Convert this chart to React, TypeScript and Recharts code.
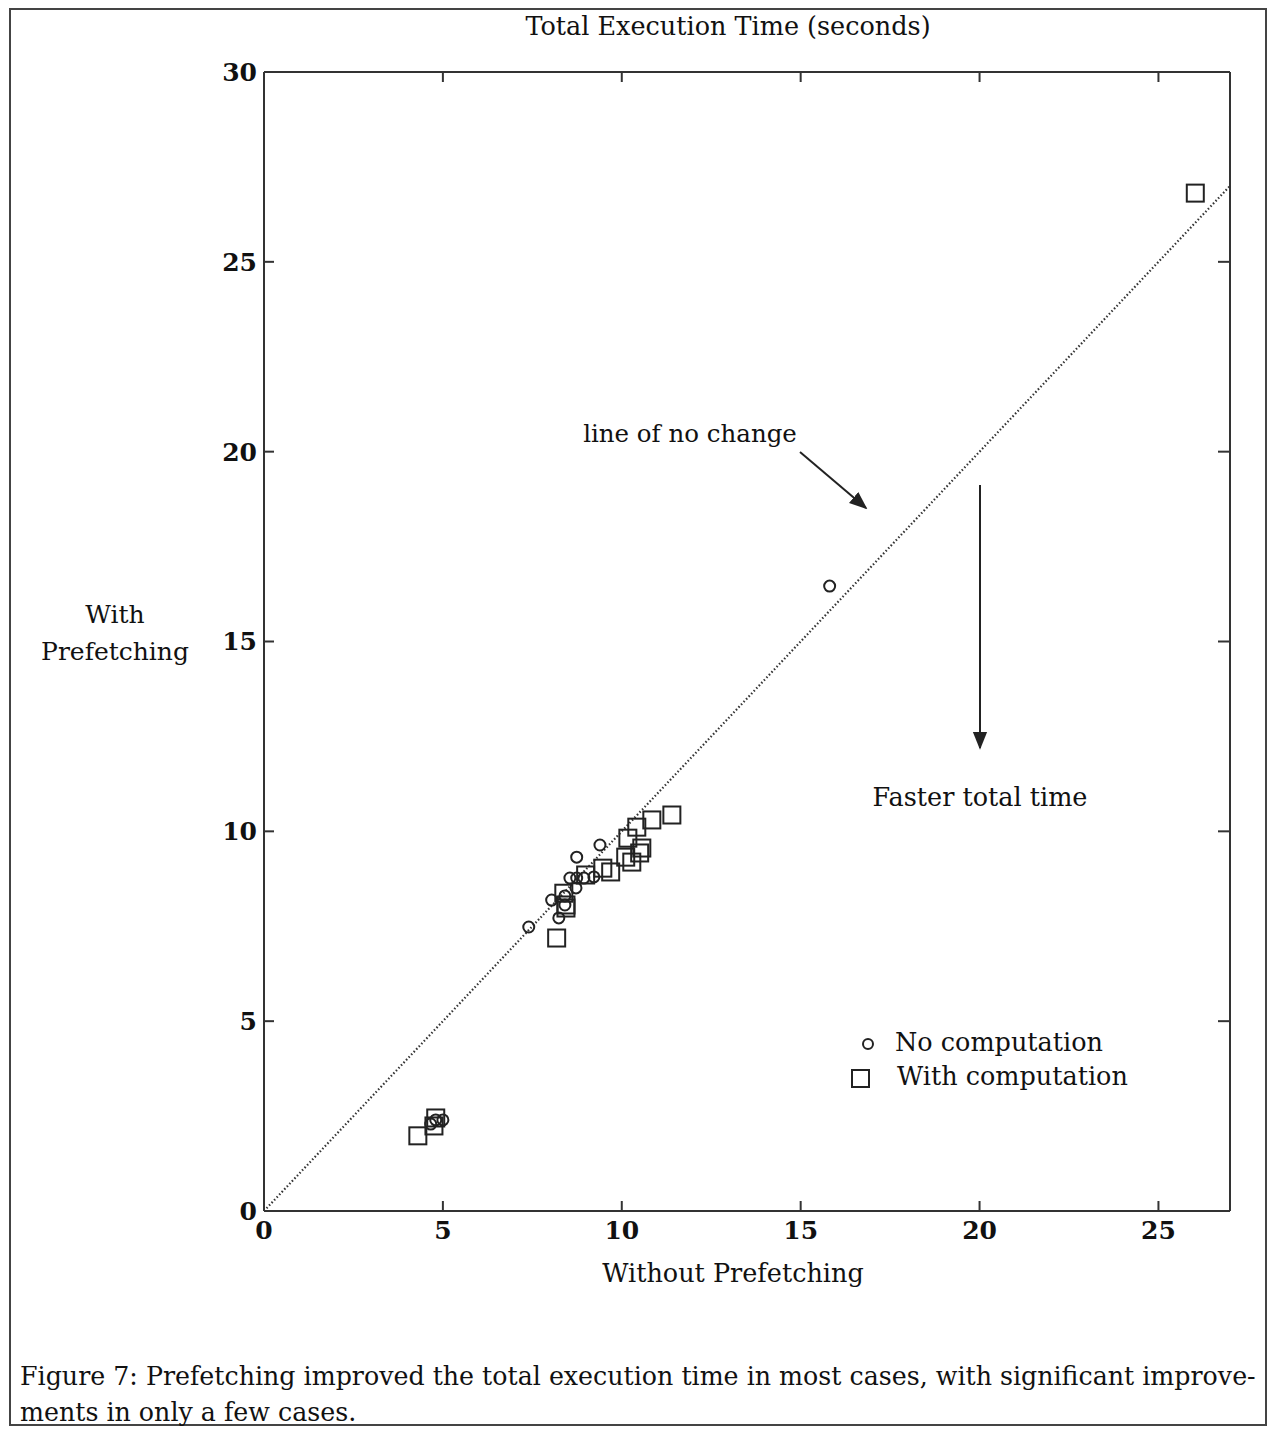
import React from "react";
import { ScatterChart, Scatter, XAxis, YAxis, ReferenceLine } from "recharts";

// values (seconds)
const xTicks = [0, 5, 10, 15, 20, 25];
const yTicks = [0, 5, 10, 15, 20, 25, 30];

const noCompWithout = [7.4, 8.04, 8.24, 8.74, 9.39, 8.55, 8.74, 8.94, 9.22, 8.72, 8.41, 8.41, 15.81, 4.8, 5.0, 4.66];
const noCompWith = [7.48, 8.19, 7.72, 9.32, 9.64, 8.77, 8.77, 8.77, 8.8, 8.51, 8.3, 8.06, 16.46, 2.4, 2.4, 2.29];

const compWithout = [26.03, 4.3, 4.75, 4.8, 8.18, 8.38, 8.44, 8.44, 8.99, 9.47, 9.69, 10.11, 10.28, 10.17, 10.42, 10.56, 10.5, 10.84, 11.4];
const compWith = [26.81, 1.98, 2.24, 2.45, 7.19, 8.37, 8.06, 7.98, 8.85, 9.03, 8.93, 9.32, 9.19, 9.82, 10.11, 9.56, 9.43, 10.3, 10.43];

const noCompData = noCompWithout.map((x, i) => ({ x, y: noCompWith[i] }));
const compData = compWithout.map((x, i) => ({ x, y: compWith[i] }));

const INK = "#222";
const FONT = "'DejaVu Serif', serif";

const Circle = (props: any) => (
  <circle cx={props.cx} cy={props.cy} r={5.5} fill="none" stroke={INK} strokeWidth={2} />
);
const Square = (props: any) => (
  <rect x={props.cx - 8.5} y={props.cy - 8.5} width={17} height={17} fill="none" stroke={INK} strokeWidth={2} />
);
const NoTick = () => <g />;

const tickStyle = { fill: "#111", fontSize: 25, fontWeight: 700, fontFamily: FONT };

export default function App() {
  return (
    <div style={{ position: "absolute", left: 0, top: 0, width: 1270, height: 1431, background: "#fff" }}>
      <ScatterChart
        width={1270}
        height={1431}
        margin={{ top: 71, left: 263, right: 39, bottom: 219 }}
      >
        <XAxis
          xAxisId="b"
          type="number"
          dataKey="x"
          domain={[0, 27]}
          ticks={xTicks}
          height={1}
          tickSize={-10}
          tickMargin={20}
          stroke="#333"
          strokeWidth={2}
          tick={tickStyle}
          allowDataOverflow
        />
        <XAxis
          xAxisId="t"
          orientation="top"
          type="number"
          dataKey="x"
          domain={[0, 27]}
          ticks={xTicks}
          height={1}
          tickSize={-10}
          stroke="#333"
          strokeWidth={2}
          tick={NoTick}
          allowDataOverflow
        />
        <YAxis
          yAxisId="l"
          type="number"
          dataKey="y"
          domain={[0, 30]}
          ticks={yTicks}
          width={1}
          tickSize={-10}
          tickMargin={17}
          stroke="#333"
          strokeWidth={2}
          tick={tickStyle}
          allowDataOverflow
        />
        <YAxis
          yAxisId="r"
          orientation="right"
          type="number"
          dataKey="y"
          domain={[0, 30]}
          ticks={yTicks}
          width={1}
          tickSize={-12}
          stroke="#333"
          strokeWidth={2}
          tick={NoTick}
          allowDataOverflow
        />
        <ReferenceLine
          xAxisId="b"
          yAxisId="l"
          segment={[{ x: 0, y: 0 }, { x: 27, y: 27 }]}
          stroke="#333"
          strokeWidth={2.2}
          strokeDasharray="1.5 2.2"
          ifOverflow="visible"
        />
        <Scatter xAxisId="b" yAxisId="l" name="No computation" data={noCompData} shape={Circle} isAnimationActive={false} />
        <Scatter xAxisId="b" yAxisId="l" name="With computation" data={compData} shape={Square} isAnimationActive={false} />
      </ScatterChart>

      <svg
        width={1270}
        height={1431}
        style={{ position: "absolute", left: 0, top: 0, pointerEvents: "none" }}
        fontFamily={FONT}
        fill="#111"
      >
        <defs>
          <marker id="ah" viewBox="0 0 10 10" refX="9" refY="5" markerWidth="9" markerHeight="9" orient="auto">
            <path d="M0,1 L10,5 L0,9 Z" fill="#222" />
          </marker>
        </defs>
        <rect x={10} y={9} width={1256} height={1416} fill="none" stroke="#444" strokeWidth={2} />

        <text x={728} y={35} textAnchor="middle" fontSize={25.5}>Total Execution Time (seconds)</text>
        <text x={733} y={1282} textAnchor="middle" fontSize={25.5}>Without Prefetching</text>
        <text x={115} y={623} textAnchor="middle" fontSize={25}>With</text>
        <text x={115} y={660} textAnchor="middle" fontSize={25}>Prefetching</text>

        <text x={690} y={442} textAnchor="middle" fontSize={24.5}>line of no change</text>
        <line x1={800} y1={452} x2={866} y2={508} stroke="#222" strokeWidth={2} markerEnd="url(#ah)" />
        <line x1={980} y1={485} x2={980} y2={748} stroke="#222" strokeWidth={2} markerEnd="url(#ah)" />
        <text x={980} y={806} textAnchor="middle" fontSize={25.5}>Faster total time</text>

        <circle cx={868} cy={1044} r={5} fill="none" stroke={INK} strokeWidth={2} />
        <text x={895} y={1051} fontSize={25.5}>No computation</text>
        <rect x={852} y={1070} width={17} height={17} fill="none" stroke={INK} strokeWidth={2} />
        <text x={897} y={1085} fontSize={25.5}>With computation</text>

        <text x={20} y={1385} fontSize={25.3}>
          Figure 7: Prefetching improved the total execution time in most cases, with significant improve-
        </text>
        <text x={20} y={1421} fontSize={25.3}>ments in only a few cases.</text>
      </svg>
    </div>
  );
}
